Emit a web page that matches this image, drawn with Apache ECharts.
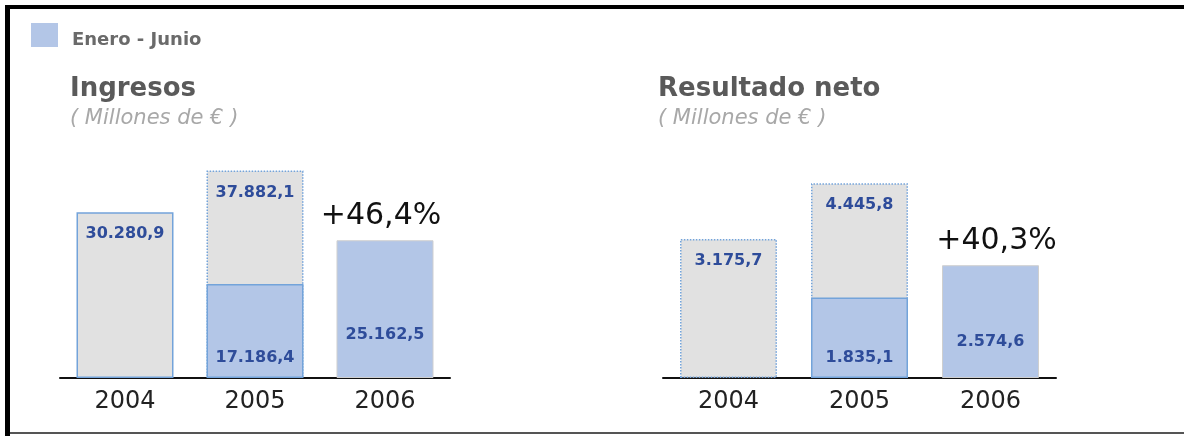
<!DOCTYPE html>
<html>
<head>
<meta charset="utf-8">
<script src="https://cdn.jsdelivr.net/npm/echarts@6/dist/echarts.min.js"></script>
<style>
html,body{margin:0;padding:0;background:#fff;}
#c{width:1184px;height:436px;}
</style>
</head>
<body>
<div id="c"></div>
<script>
// ---- data ----
const years = ['2004', '2005', '2006'];
const ingresosAnual = [30280.9, 37882.1, null];        // full year (gray)
const ingresosEneJun = [null, 17186.4, 25162.5];      // Enero - Junio (blue)
const ingresosCrec = 46.4;                             // % growth label
const resultadoAnual = [3175.7, 4445.8, null];
const resultadoEneJun = [null, 1835.1, 2574.6];
const resultadoCrec = 40.3;
const titles = ['Ingresos', 'Resultado neto'];
const subtitle = '( Millones de € )';
const legendName = 'Enero - Junio';

function fmt(v) {
  const parts = v.toFixed(1).split('.');
  return parts[0].replace(/\B(?=(\d{3})+(?!\d))/g, '.') + ',' + parts[1];
}
function fmtPct(g) { return '+' + g.toFixed(1).replace('.', ',') + '%'; }

const BLUE = '#b3c6e7', GRAY = '#e1e1e1', EDGE = '#73a3da', LBL = '#2e4c9a';
const valueLabel = {
  show: true, color: LBL, fontFamily: 'DejaVu Sans', fontWeight: 'bold', fontSize: 16,
  formatter: p => fmt(p.value)
};

function panel(gi, anual, eneJun, crec, fullBorderTypes, h1Dist, pctOffset) {
  const s = [];
  s.push({
    type: 'bar', name: 'Año completo', xAxisIndex: gi, yAxisIndex: gi, barWidth: 97, barGap: '-100%',
    data: anual.map((v, i) => v == null ? null : {
      value: v,
      itemStyle: { color: GRAY, borderColor: EDGE, borderWidth: 1.5, borderType: fullBorderTypes[i] }
    }),
    label: Object.assign({}, valueLabel, { position: 'insideTop', distance: 14 }),
    silent: true
  });
  s.push({
    type: 'bar', name: legendName, xAxisIndex: gi, yAxisIndex: gi, barWidth: 97, barGap: '-100%',
    itemStyle: { color: BLUE },
    data: eneJun.map((v, i) => v == null ? null : {
      value: v,
      itemStyle: i === eneJun.length - 1
        ? { color: BLUE, borderColor: '#cfcfcf', borderWidth: 1 }
        : { color: BLUE, borderColor: EDGE, borderWidth: 1.5 },
      label: { distance: h1Dist[i] }
    }),
    label: Object.assign({}, valueLabel, { position: 'insideBottom' }),
    silent: true
  });
  s.push({
    type: 'bar', name: 'crecimiento', xAxisIndex: gi, yAxisIndex: gi, barWidth: 97, barGap: '-100%',
    itemStyle: { color: 'rgba(0,0,0,0)' },
    data: eneJun.map((v, i) => i === eneJun.length - 1 ? v : null),
    label: {
      show: true, position: 'top', distance: 9, color: '#111', offset: [pctOffset, 0],
      fontFamily: 'DejaVu Sans', fontSize: 30, formatter: () => fmtPct(crec)
    },
    silent: true
  });
  return s;
}

const chart = echarts.init(document.getElementById('c'), null, { renderer: 'canvas' });
const grids = [
  { left: 60, width: 390, top: 159, height: 219 },
  { left: 663, width: 393, top: 159, height: 219 }
];
const xAxes = grids.map((g, i) => ({
  type: 'category', gridIndex: i, data: years,
  axisLine: { lineStyle: { color: '#111', width: 2 } },
  axisTick: { show: false },
  axisLabel: { color: '#222', fontFamily: 'DejaVu Sans', fontSize: 24, margin: 12 }
}));
const yMax = [40000, 5000];
const yAxes = grids.map((g, i) => ({
  type: 'value', gridIndex: i, min: 0, max: yMax[i], show: false, splitLine: { show: false }
}));

const titleStyle = { color: '#5a5a5a', fontFamily: 'DejaVu Sans', fontWeight: 'bold', fontSize: 26 };
const subStyle = { color: '#a8a8a8', fontFamily: 'DejaVu Sans', fontStyle: 'italic', fontSize: 21 };

chart.setOption({
  animation: false,
  backgroundColor: '#fff',
  title: [
    { text: titles[0], subtext: subtitle, left: 70, top: 76, padding: 0, itemGap: 6, textStyle: titleStyle, subtextStyle: subStyle },
    { text: titles[1], subtext: subtitle, left: 658, top: 76, padding: 0, itemGap: 6, textStyle: titleStyle, subtextStyle: subStyle }
  ],
  legend: {
    data: [legendName], left: 31, top: 23, padding: 0, icon: 'rect',
    itemWidth: 27, itemHeight: 24,
    itemStyle: { borderWidth: 0 },
    formatter: name => '{t|' + name + '}',
    textStyle: {
      color: '#6a6a6a', fontFamily: 'DejaVu Sans', fontWeight: 'bold', fontSize: 18,
      rich: { t: { color: '#6a6a6a', fontFamily: 'DejaVu Sans', fontWeight: 'bold', fontSize: 18, padding: [10, 0, 0, 9] } }
    },
    selectedMode: false
  },
  grid: grids,
  xAxis: xAxes,
  yAxis: yAxes,
  series: [].concat(
    panel(0, ingresosAnual, ingresosEneJun, ingresosCrec, ['solid', 'dotted', 'solid'], [12, 12, 35], -4),
    panel(1, resultadoAnual, resultadoEneJun, resultadoCrec, ['dotted', 'dotted', 'solid'], [12, 12, 28], 6)
  ),
  graphic: [
    { type: 'rect', shape: { x: 5, y: 5, width: 5, height: 431 }, style: { fill: '#000' }, silent: true },
    { type: 'rect', shape: { x: 5, y: 5, width: 1179, height: 4 }, style: { fill: '#000' }, silent: true },
    { type: 'rect', shape: { x: 10, y: 432, width: 1174, height: 2 }, style: { fill: '#555' }, silent: true }
  ]
});
</script>
</body>
</html>
